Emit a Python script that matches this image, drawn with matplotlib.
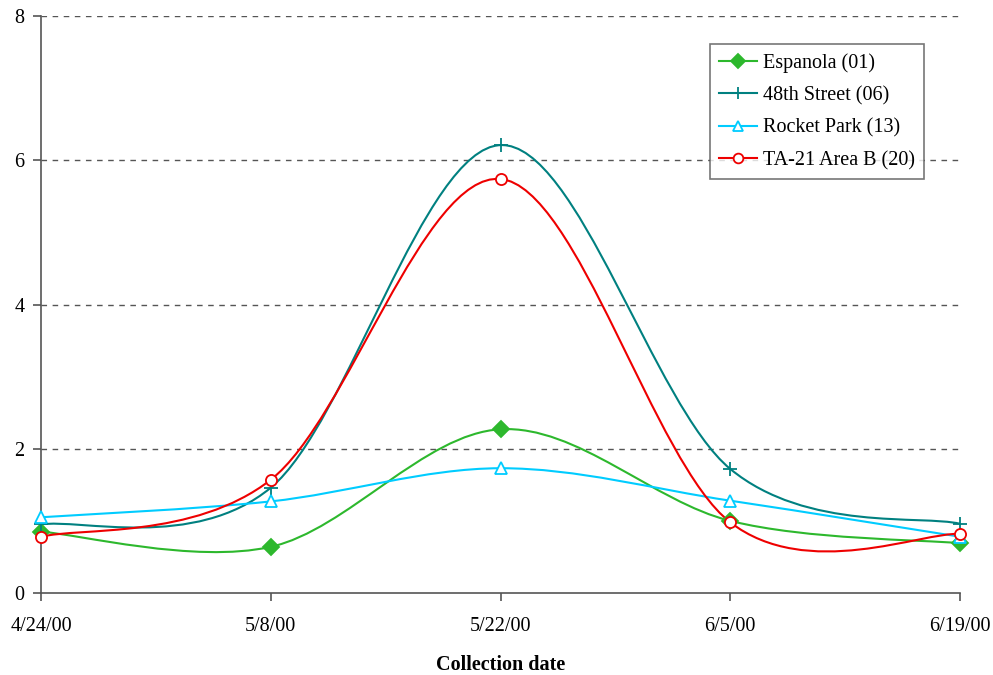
"""Smoothed concentration lines per sampling station (Excel-style chart)."""
import datetime as dt

import matplotlib

matplotlib.use("Agg")
import matplotlib.dates as mdates
import matplotlib.pyplot as plt
import numpy as np
from matplotlib.lines import Line2D
from matplotlib.patches import PathPatch
from matplotlib.path import Path

dates = ["2000-04-24", "2000-05-08", "2000-05-22", "2000-06-05", "2000-06-19"]
tick_labels = ["4/24/00", "5/8/00", "5/22/00", "6/5/00", "6/19/00"]

espanola = [0.85, 0.64, 2.27, 1.00, 0.69]
street_48 = [0.95, 1.46, 6.21, 1.72, 0.96]
rocket_park = [1.05, 1.27, 1.73, 1.28, 0.78]
ta21_area_b = [0.78, 1.57, 5.74, 0.98, 0.82]

series = [
    ("Espanola (01)", espanola, "#2db82d", "D"),
    ("48th Street (06)", street_48, "#008080", "+"),
    ("Rocket Park (13)", rocket_park, "#00ccff", "^"),
    ("TA-21 Area B (20)", ta21_area_b, "#ee0000", "o"),
]

plt.rcParams["font.family"] = ["Liberation Serif", "DejaVu Serif"]


def smooth_path(x, y):
    """Bezier path through the points, Catmull-Rom style like Excel."""
    pts = np.column_stack([x, y])
    verts = [pts[0]]
    codes = [Path.MOVETO]
    n = len(pts)
    for i in range(n - 1):
        p0 = pts[i - 1] if i > 0 else pts[i]
        p1 = pts[i]
        p2 = pts[i + 1]
        p3 = pts[i + 2] if i + 2 < n else pts[i + 1]
        c1 = p1 + (p2 - p0) / 6.0
        c2 = p2 - (p3 - p1) / 6.0
        verts += [c1, c2, p2]
        codes += [Path.CURVE4] * 3
    return Path(verts, codes)


def marker_style(color, marker, size=8):
    return dict(marker=marker, color=color,
                markersize=size if marker != "+" else size + 2,
                markerfacecolor=color if marker == "D" else "white",
                markeredgewidth=1.3)


fig = plt.figure(figsize=(9.93, 6.75), dpi=100)
ax = fig.add_axes([41 / 993, 1 - 593 / 675, 919 / 993, 577 / 675])

x = mdates.date2num([dt.date.fromisoformat(d) for d in dates])
handles = []
for label, vals, color, marker in series:
    ax.add_patch(PathPatch(smooth_path(x, vals), facecolor="none",
                           edgecolor=color, lw=1.5, zorder=3))
    ax.plot(x, vals, ls="none", zorder=4, clip_on=False,
            **marker_style(color, marker))
    handles.append(Line2D([], [], lw=1.5, label=label,
                          **marker_style(color, marker, 7)))

ax.set_xlim(x[0], x[-1])
ax.set_ylim(0, 8)
ax.set_xticks(x)
ax.set_xticklabels(tick_labels)
ax.set_yticks(range(0, 9, 2))
ax.tick_params(labelsize=14.5, color="#555555", length=6, width=1.2)
ax.tick_params(axis="x", pad=11)
ax.tick_params(axis="y", pad=6)

for y in range(2, 9, 2):
    ax.axhline(y, color="#555555", lw=1, ls=(0, (4, 4)), zorder=1)

for side in ("top", "right"):
    ax.spines[side].set_visible(False)
for side in ("left", "bottom"):
    ax.spines[side].set_color("#555555")
    ax.spines[side].set_linewidth(1.2)

ax.set_xlabel("Collection date", fontsize=14.5, fontweight="bold", labelpad=14)

leg = ax.legend(handles=handles, loc="upper left",
                bbox_to_anchor=((710 - 41) / 919, 1 - (44 - 16) / 577),
                bbox_transform=ax.transAxes, fontsize=14.5, frameon=True,
                fancybox=False, handlelength=1.9, borderpad=0.45,
                labelspacing=0.66, handletextpad=0.3, borderaxespad=0)
leg.get_frame().set_edgecolor("#555555")
leg.get_frame().set_linewidth(1.2)
leg.set_zorder(5)

fig.savefig("out.png", dpi=100)
